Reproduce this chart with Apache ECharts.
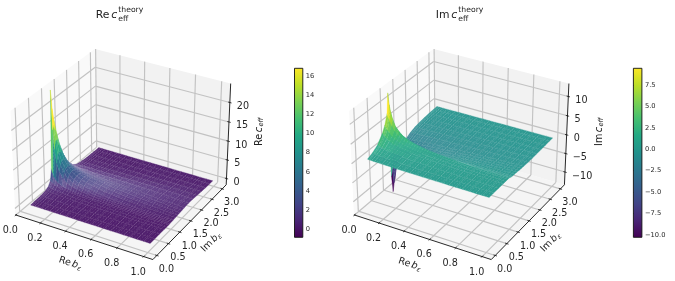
<!DOCTYPE html>
<html>
<head>
<meta charset="utf-8">
<style>html,body{margin:0;padding:0;background:#fff}#c{width:675px;height:281px}</style>
<script src="https://cdn.jsdelivr.net/npm/echarts@6/dist/echarts.min.js"></script>
</head>
<body>
<div id="c"></div>
<script>
// Sampling of the effective coefficient over the complex b plane
const reB = [.066,.075,.085,.1,.12,.15,.18,.22,.26,.3,.35,.4,.45,.5,.55,.6,.65,.7,.75,.8,.85,.9,.95,1];
const imB = [.1,.3,.5,.7,.8,.9,.95,1,1.05,1.1,1.2,1.3,1.4,1.5,1.6,1.8,2,2.2,2.4,2.6,2.8,2.95];

const reCeff = [
[.1,.2,.3,.6,1,2.2,5,25,20,17,13,9.5,7,5,3.6,1.5,.6,.35,.2,.15,.1,.1],
[.1,.2,.3,.6,.9,1.9,4,15,16,14.5,11.5,8.8,6.5,4.7,3.4,1.5,.6,.35,.2,.15,.1,.1],
[.1,.2,.3,.5,.8,1.6,3,10,12,12,10,7.8,6,4.4,3.2,1.4,.6,.35,.2,.15,.1,.1],
[.1,.2,.3,.5,.7,1.3,2.3,6.5,8.5,9,8.5,7,5.4,4,3,1.4,.6,.3,.2,.15,.1,.1],
[.1,.15,.25,.4,.6,1,1.7,4.5,6,6.8,6.8,5.8,4.6,3.6,2.7,1.3,.6,.3,.2,.12,.1,.1],
[.1,.15,.2,.35,.5,.8,1.2,3,4.2,5,5.2,4.7,3.9,3.1,2.4,1.2,.6,.3,.2,.12,.1,.1],
[.1,.15,.2,.3,.4,.6,.9,2.1,3,3.7,4.1,3.9,3.4,2.8,2.2,1.2,.6,.3,.2,.12,.1,.1],
[.1,.12,.18,.25,.3,.5,.7,1.5,2.2,2.8,3.2,3.2,2.9,2.5,2,1.1,.6,.3,.2,.12,.1,.1],
[.1,.12,.15,.2,.25,.4,.55,1.1,1.7,2.2,2.7,2.8,2.6,2.2,1.9,1.1,.6,.3,.2,.12,.1,.1],
[.08,.1,.12,.18,.22,.32,.45,.9,1.3,1.8,2.3,2.5,2.4,2.1,1.8,1.1,.6,.3,.2,.12,.1,.08],
[.08,.1,.12,.15,.2,.28,.36,.7,1,1.4,1.9,2.1,2.2,2,1.7,1.1,.6,.35,.2,.12,.1,.08],
[.08,.1,.1,.14,.18,.24,.3,.55,.8,1.1,1.6,1.85,1.95,1.85,1.65,1.1,.65,.35,.2,.12,.1,.08],
[.08,.08,.1,.12,.15,.2,.26,.45,.65,.9,1.3,1.6,1.75,1.72,1.55,1.1,.65,.35,.2,.12,.1,.08],
[.06,.08,.1,.12,.14,.18,.22,.38,.55,.75,1.1,1.35,1.55,1.58,1.5,1.1,.7,.4,.22,.15,.1,.08],
[.06,.08,.08,.1,.12,.16,.2,.32,.45,.62,.9,1.15,1.35,1.42,1.4,1.1,.7,.4,.22,.15,.1,.08],
[.06,.06,.08,.1,.12,.14,.18,.28,.38,.52,.75,1,1.18,1.28,1.28,1.05,.7,.42,.25,.15,.1,.08],
[.06,.06,.08,.1,.1,.13,.16,.24,.32,.44,.65,.85,1.02,1.13,1.17,1,.72,.42,.25,.15,.1,.08],
[.05,.06,.06,.08,.1,.12,.14,.2,.28,.38,.55,.72,.88,1,1.05,.95,.7,.45,.25,.15,.1,.08],
[.05,.05,.06,.08,.08,.1,.12,.18,.24,.32,.47,.62,.76,.87,.94,.9,.68,.45,.28,.16,.1,.08],
[.05,.05,.06,.06,.08,.1,.11,.15,.2,.27,.4,.53,.65,.76,.83,.84,.66,.45,.28,.16,.1,.08],
[.04,.05,.05,.06,.07,.08,.1,.13,.17,.23,.34,.45,.56,.66,.73,.78,.64,.44,.28,.17,.1,.08],
[.04,.04,.05,.06,.06,.08,.09,.11,.15,.2,.29,.38,.48,.57,.64,.7,.6,.44,.28,.17,.1,.08],
[.04,.04,.05,.05,.06,.07,.08,.1,.13,.17,.25,.33,.41,.5,.56,.63,.56,.42,.28,.17,.1,.08],
[.03,.04,.04,.05,.05,.06,.07,.08,.11,.15,.21,.28,.35,.43,.5,.57,.52,.4,.27,.17,.1,.07]
];

const imCeff = [
[.4,1,2,4,5.5,8,13,-9,-13.5,-11,-7,-5,-3.8,-3,-2.4,-1.6,-1.1,-.8,-.6,-.45,-.35,-.3],
[.4,.9,1.8,3.6,5,7,10,-7,-11,-9.5,-6.4,-4.6,-3.6,-2.9,-2.3,-1.6,-1.1,-.8,-.6,-.45,-.35,-.3],
[.35,.85,1.7,3.2,4.4,6.2,8.2,-2,-7.5,-7,-5.4,-4.3,-3.4,-2.8,-2.3,-1.6,-1.1,-.8,-.6,-.45,-.35,-.3],
[.35,.8,1.5,2.8,3.8,5.2,6.5,1,-5,-5.5,-4.8,-3.9,-3.2,-2.6,-2.2,-1.5,-1.1,-.8,-.6,-.45,-.35,-.3],
[.3,.7,1.3,2.3,3,4,5,1.2,-3.5,-4.2,-4,-3.4,-2.9,-2.4,-2,-1.5,-1.1,-.8,-.6,-.45,-.35,-.3],
[.3,.6,1.1,1.8,2.4,3,3.8,1,-2.3,-3,-3.2,-2.9,-2.5,-2.2,-1.9,-1.4,-1.05,-.8,-.6,-.45,-.35,-.28],
[.25,.55,.95,1.5,1.9,2.4,3,.8,-1.7,-2.3,-2.6,-2.5,-2.3,-2,-1.8,-1.35,-1,-.75,-.6,-.45,-.35,-.28],
[.25,.5,.8,1.2,1.5,1.9,2.4,.6,-1.3,-1.8,-2.2,-2.2,-2,-1.9,-1.7,-1.3,-1,-.75,-.55,-.42,-.33,-.28],
[.22,.45,.7,1,1.25,1.55,1.95,.5,-1,-1.5,-1.9,-1.95,-1.85,-1.75,-1.6,-1.25,-.95,-.72,-.55,-.42,-.33,-.26],
[.2,.4,.6,.85,1.05,1.3,1.65,.4,-.8,-1.25,-1.65,-1.75,-1.7,-1.62,-1.5,-1.2,-.92,-.7,-.53,-.4,-.32,-.26],
[.18,.35,.52,.72,.88,1.08,1.35,.35,-.65,-1.02,-1.42,-1.55,-1.55,-1.5,-1.4,-1.15,-.88,-.68,-.52,-.4,-.3,-.25],
[.16,.3,.45,.62,.74,.9,1.1,.28,-.52,-.85,-1.2,-1.35,-1.4,-1.37,-1.3,-1.08,-.85,-.65,-.5,-.38,-.3,-.24],
[.14,.27,.4,.54,.64,.76,.92,.22,-.42,-.7,-1.02,-1.18,-1.25,-1.25,-1.2,-1.02,-.8,-.63,-.48,-.37,-.28,-.23],
[.12,.24,.35,.47,.55,.66,.78,.18,-.35,-.58,-.87,-1.03,-1.1,-1.13,-1.1,-.95,-.77,-.6,-.46,-.35,-.27,-.22],
[.11,.21,.3,.41,.48,.57,.67,.15,-.29,-.48,-.74,-.9,-.98,-1.02,-1,-.9,-.73,-.57,-.44,-.34,-.26,-.21],
[.1,.19,.27,.36,.42,.5,.57,.12,-.24,-.4,-.62,-.78,-.87,-.92,-.92,-.84,-.69,-.54,-.42,-.32,-.25,-.2],
[.09,.17,.24,.32,.37,.44,.49,.1,-.2,-.34,-.53,-.67,-.77,-.82,-.84,-.78,-.65,-.52,-.4,-.31,-.24,-.19],
[.08,.15,.21,.28,.32,.38,.42,.08,-.17,-.28,-.45,-.58,-.67,-.73,-.76,-.73,-.62,-.49,-.38,-.3,-.23,-.19],
[.07,.13,.19,.25,.28,.33,.36,.07,-.14,-.24,-.38,-.5,-.59,-.65,-.68,-.67,-.58,-.47,-.37,-.28,-.22,-.18],
[.06,.12,.17,.22,.25,.29,.31,.06,-.12,-.2,-.33,-.43,-.52,-.58,-.61,-.62,-.55,-.45,-.35,-.27,-.22,-.17],
[.06,.11,.15,.19,.22,.25,.27,.05,-.1,-.17,-.28,-.37,-.45,-.51,-.55,-.57,-.52,-.43,-.34,-.26,-.21,-.17],
[.05,.1,.13,.17,.19,.22,.24,.04,-.09,-.15,-.24,-.32,-.39,-.45,-.49,-.52,-.48,-.41,-.33,-.25,-.2,-.16],
[.05,.09,.12,.15,.17,.19,.21,.03,-.07,-.13,-.21,-.28,-.34,-.4,-.44,-.48,-.45,-.39,-.31,-.25,-.2,-.16],
[.04,.08,.1,.13,.15,.17,.18,.03,-.06,-.11,-.18,-.24,-.3,-.35,-.39,-.44,-.42,-.37,-.3,-.24,-.19,-.15]
];

// Axis ticks and limits
const reTicks = [0,.2,.4,.6,.8,1];
const imTicks = [0,.5,1,1.5,2,2.5,3];
const reZTicks = [0,5,10,15,20];
const imZTicks = [-10,-5,0,5,10];
const reBarTicks = [0,2,4,6,8,10,12,14,16];
const imBarTicks = [-10,-7.5,-5,-2.5,0,2.5,5,7.5];
const xLim = [-.005,1.068];
const yLim = [-.17,3.2];
const reZLim = [-1.7,24.8];
const imZLim = [-13.5,13.3];
const reRange = [-.835,16.8];
const imRange = [-10.27,9.45];

const viridis = ['#440154','#482475','#414487','#355f8d','#2a788e','#21918c','#22a884','#44bf70','#7ad151','#bddf26','#fde725'];

function hexRgb(h){return [1,3,5].map(i=>parseInt(h.substr(i,2),16));}
const viridisRgb = viridis.map(hexRgb);
function cmap(t, seam){
  t = Math.max(0,Math.min(1,t));
  const p = t*(viridis.length-1), i = Math.min(viridis.length-2,Math.floor(p)), f = p-i;
  const c = [0,1,2].map(k=>viridisRgb[i][k]*(1-f)+viridisRgb[i+1][k]*f);
  return 'rgb('+c.map(v=>Math.round(v*(1-seam)+255*seam)).join(',')+')';
}

// Perspective camera: elevation 30, azimuth -60, distance 10, box aspect 4:4:3
const box = [1.1428,1.1428,.8571];
const U = [.8660254,.5,0], V = [-.25,.4330127,.8660254], N = [.4330127,-.75,.5];
function project(nx,ny,nz){
  const r = [(nx-.5)*box[0],(ny-.5)*box[1],(nz-.5)*box[2]];
  const dot = a=>a[0]*r[0]+a[1]*r[1]+a[2]*r[2];
  const d = 10-dot(N);
  return [dot(U)/d,dot(V)/d,d];
}
function frac(v,l){return (v-l[0])/(l[1]-l[0]);}
function viewPoint(x,y,z,zLim){return project(frac(x,xLim),frac(y,yLim),frac(z,zLim));}

function surfaceCells(table,zLim){
  const cells = [];
  for(let i=0;i<reB.length-1;i++)for(let j=0;j<imB.length-1;j++){
    const d = [[i,j],[i+1,j],[i+1,j+1],[i,j+1]].map(q=>viewPoint(reB[q[0]],imB[q[1]],table[q[0]][q[1]],zLim)[2]);
    cells.push({i,j,depth:(d[0]+d[1]+d[2]+d[3])/4});
  }
  cells.sort((a,b)=>b.depth-a.depth);
  return cells.map(c=>[c.i,c.j]);
}

const polyArea = p=>{let s=0;for(let k=0;k<p.length;k++){const q=p[(k+1)%p.length];s+=p[k][0]*q[1]-q[0]*p[k][1];}return Math.abs(s)/2;};

// One facet per table cell; fine light hatching runs along the Im b direction
const hatchStep = .02;
function surfaceSeries(grid,table,zLim,range,haze){
  return {
    type:'custom',xAxisIndex:grid,yAxisIndex:grid,coordinateSystem:'cartesian2d',clip:false,z:3,silent:true,
    data:surfaceCells(table,zLim),
    renderItem(params,api){
      const i = api.value(0), j = api.value(1);
      const idx = [[i,j],[i+1,j],[i+1,j+1],[i,j+1]];
      const at = (x,y,z)=>{const v=viewPoint(x,y,z,zLim);return api.coord([v[0],v[1]]);};
      const pts = idx.map(q=>at(reB[q[0]],imB[q[1]],table[q[0]][q[1]]));
      const flat = idx.map(q=>at(reB[q[0]],imB[q[1]],zLim[0]));
      const avg = idx.reduce((s,q)=>s+table[q[0]][q[1]],0)/4;
      const ratio = polyArea(pts)/Math.max(polyArea(flat),1e-6);
      const t = (avg-range[0])/(range[1]-range[0]);
      const pale = Math.max(0,1-Math.abs(Math.abs(avg)-haze[0])/haze[0])*haze[1];
      const seam = Math.min(.42,.05/Math.max(ratio,.1)+pale);
      const col = cmap(t,seam);
      const children = [{type:'polygon',shape:{points:pts},style:{fill:col,stroke:col,lineWidth:.3}}];
      const x0 = reB[i], x1 = reB[i+1];
      for(let h=Math.ceil(x0/hatchStep);h*hatchStep<x1;h++){
        const f = (h*hatchStep-x0)/(x1-x0), x = h*hatchStep;
        const a = at(x,imB[j],table[i][j]*(1-f)+table[i+1][j]*f);
        const b = at(x,imB[j+1],table[i][j+1]*(1-f)+table[i+1][j+1]*f);
        children.push({type:'line',shape:{x1:a[0],y1:a[1],x2:b[0],y2:b[1]},style:{stroke:'rgba(255,255,255,.16)',lineWidth:.8,lineDash:[2,1.5]}});
      }
      return {type:'group',children};
    }
  };
}

// Panes, gridlines, axis lines, ticks and tick labels of the 3D box
function frameSeries(grid,zLim,zTicks){
  const [x0,x1]=xLim,[y0,y1]=yLim,[z0,z1]=zLim;
  const items = [];
  const quad=(a,fill)=>items.push({k:'q',a,fill});
  const seg=(a,b,color,w)=>items.push({k:'l',a,b,color,w});
  quad([[x0,y0,z0],[x1,y0,z0],[x1,y1,z0],[x0,y1,z0]],'#f5f5f5');
  quad([[x0,y0,z0],[x0,y1,z0],[x0,y1,z1],[x0,y0,z1]],'#f9f9f9');
  quad([[x0,y1,z0],[x1,y1,z0],[x1,y1,z1],[x0,y1,z1]],'#f2f2f2');
  const gc='#c2c2c2', gw=1.15;
  reTicks.forEach(t=>{seg([t,y0,z0],[t,y1,z0],gc,gw);seg([t,y1,z0],[t,y1,z1],gc,gw);});
  imTicks.forEach(t=>{seg([x1,t,z0],[x0,t,z0],gc,gw);seg([x0,t,z0],[x0,t,z1],gc,gw);});
  zTicks.forEach(t=>{seg([x0,y0,t],[x0,y1,t],gc,gw);seg([x0,y1,t],[x1,y1,t],gc,gw);});
  const ink='#111';
  seg([x0,y0,z0],[x1,y0,z0],ink,.9);
  seg([x1,y0,z0],[x1,y1,z0],ink,.9);
  seg([x1,y1,z0],[x1,y1,z1],ink,.9);
  const dy=(y1-y0)*.012, dx=(x1-x0)*.012;
  reTicks.forEach(t=>{seg([t,y0-dy,z0],[t,y0+dy,z0],ink,.8);items.push({k:'t',a:[t,y0,z0],text:t.toFixed(1),dx:-5.5,dy:15.5});});
  imTicks.forEach(t=>{seg([x1-dx,t,z0],[x1+dx,t,z0],ink,.8);items.push({k:'t',a:[x1,t,z0],text:t.toFixed(1),dx:9.5,dy:14});});
  zTicks.forEach(t=>{seg([x1-dx,y1,t],[x1+dx,y1,t],ink,.8);items.push({k:'t',a:[x1,y1,t],text:String(t).replace('-','\u2212'),dx:7,dy:4,left:true});});
  return {
    type:'custom',xAxisIndex:grid,yAxisIndex:grid,coordinateSystem:'cartesian2d',clip:false,z:2,silent:true,
    data:items.map((_,n)=>[n]),
    renderItem(params,api){
      const it = items[api.value(0)];
      const at = p=>{const v=viewPoint(p[0],p[1],p[2],zLim);return api.coord([v[0],v[1]]);};
      if(it.k==='q')return {type:'polygon',shape:{points:it.a.map(at)},style:{fill:it.fill}};
      if(it.k==='l'){const a=at(it.a),b=at(it.b);return {type:'line',shape:{x1:a[0],y1:a[1],x2:b[0],y2:b[1]},style:{stroke:it.color,lineWidth:it.w}};}
      const a=at(it.a);
      return {type:'text',x:a[0]+it.dx,y:a[1]+it.dy,style:{text:it.text,fill:'#262626',font:'9.6px "DejaVu Sans"',align:it.left?'left':'center',verticalAlign:'middle'}};
    }
  };
}

function barSeries(grid){
  return {
    type:'custom',xAxisIndex:grid,yAxisIndex:grid,coordinateSystem:'cartesian2d',silent:true,z:3,clip:false,
    data:[[0]],
    renderItem(params,api){
      const s=params.coordSys;
      return {type:'rect',shape:{x:s.x,y:s.y,width:s.width,height:s.height},style:{
        stroke:'#111',lineWidth:.9,
        fill:new echarts.graphic.LinearGradient(0,1,0,0,viridis.map((c,n)=>({offset:n/(viridis.length-1),color:c})))
      }};
    }
  };
}

// Mathtext-style labels assembled from text runs with raised or lowered scripts
const ruler = document.createElement('canvas').getContext('2d');
function runFont(r){return (r.it?'italic ':'')+r.size+'px "DejaVu Sans"';}
function mathText(runs,x,y,rot,centre){
  let pen=0; const children=[];
  runs.forEach(r=>{
    ruler.font=runFont(r);
    const w=ruler.measureText(r.t).width;
    children.push({type:'text',x:pen,y:-(r.up||0)+.236*r.size,style:{text:r.t,font:runFont(r),fill:'#222',align:'left',verticalAlign:'bottom'}});
    if(!r.stack)pen+=w+(r.gap||0);
  });
  if(centre)children.forEach(c=>{c.x-=pen/2;});
  return {type:'group',x,y,rotation:rot*Math.PI/180,silent:true,children};
}
function titleRuns(a){return [{t:a,size:10.8,gap:1.8},{t:'c',size:10.8,it:true,gap:1.2},{t:'theory',size:7.7,up:6,stack:true},{t:'eff',size:7.7,up:-2.6}];}
function axisRuns(a,b,sub){return [{t:a,size:9.6,gap:1.6},{t:b,size:9.6,it:true,gap:.3},{t:sub,size:6.8,it:true,up:-1.6}];}

const panelW = 337, dxPanel = 338.7, sc = 1380, cx = 122.6, cy = 149.4;
const viewAxisX = {min:-cx/sc,max:(panelW-cx)/sc,show:false,type:'value'};
const viewAxisY = {min:(cy-281)/sc,max:cy/sc,show:false,type:'value'};
const barAxis = (range,ticks,fmt)=>({type:'value',position:'right',min:range[0],max:range[1],
  splitLine:{show:false},axisLine:{show:false},
  axisTick:{show:true,length:2,inside:false,customValues:ticks,lineStyle:{color:'#222',width:.7}},
  axisLabel:{show:true,customValues:ticks,margin:3,fontSize:6.7,fontFamily:'DejaVu Sans',color:'#262626',formatter:fmt}});

const chart = echarts.init(document.getElementById('c'),null,{renderer:'canvas'});
chart.setOption({
  animation:false,
  backgroundColor:'#fff',
  grid:[
    {left:0,top:0,width:panelW,height:281},
    {left:dxPanel,top:0,width:panelW-.7,height:281},
    {left:294.5,top:68.3,width:8.3,height:169},
    {left:633.4,top:68.3,width:8.5,height:169}
  ],
  xAxis:[viewAxisX,viewAxisX,{type:'value',show:false,min:0,max:1},{type:'value',show:false,min:0,max:1}].map((a,n)=>({...a,gridIndex:n})),
  yAxis:[
    {...viewAxisY,gridIndex:0},{...viewAxisY,gridIndex:1},
    {...barAxis(reRange,reBarTicks,v=>String(v)),gridIndex:2},
    {...barAxis(imRange,imBarTicks,v=>v.toFixed(1).replace('-','\u2212')),gridIndex:3}
  ],
  series:[
    frameSeries(0,reZLim,reZTicks),surfaceSeries(0,reCeff,reZLim,reRange,[1.8,.2]),
    frameSeries(1,imZLim,imZTicks),surfaceSeries(1,imCeff,imZLim,imRange,[1.5,.08]),
    barSeries(2),barSeries(3)
  ],
  graphic:[
    mathText(titleRuns('Re'),95.7,18.3,0),
    mathText(titleRuns('Im'),435.7,18.3,0),
    mathText(axisRuns('Re','b','\u03b5'),69.5,266,-18,true),
    mathText(axisRuns('Im','b','\u03b5'),213,244,45,true),
    mathText(axisRuns('Re','c','eff'),262,131.7,90,true),
    mathText(axisRuns('Re','b','\u03b5'),409,267,-18,true),
    mathText(axisRuns('Im','b','\u03b5'),552.5,244,45,true),
    mathText(axisRuns('Im','c','eff'),602,131.7,90,true)
  ]
});
</script>
</body>
</html>
